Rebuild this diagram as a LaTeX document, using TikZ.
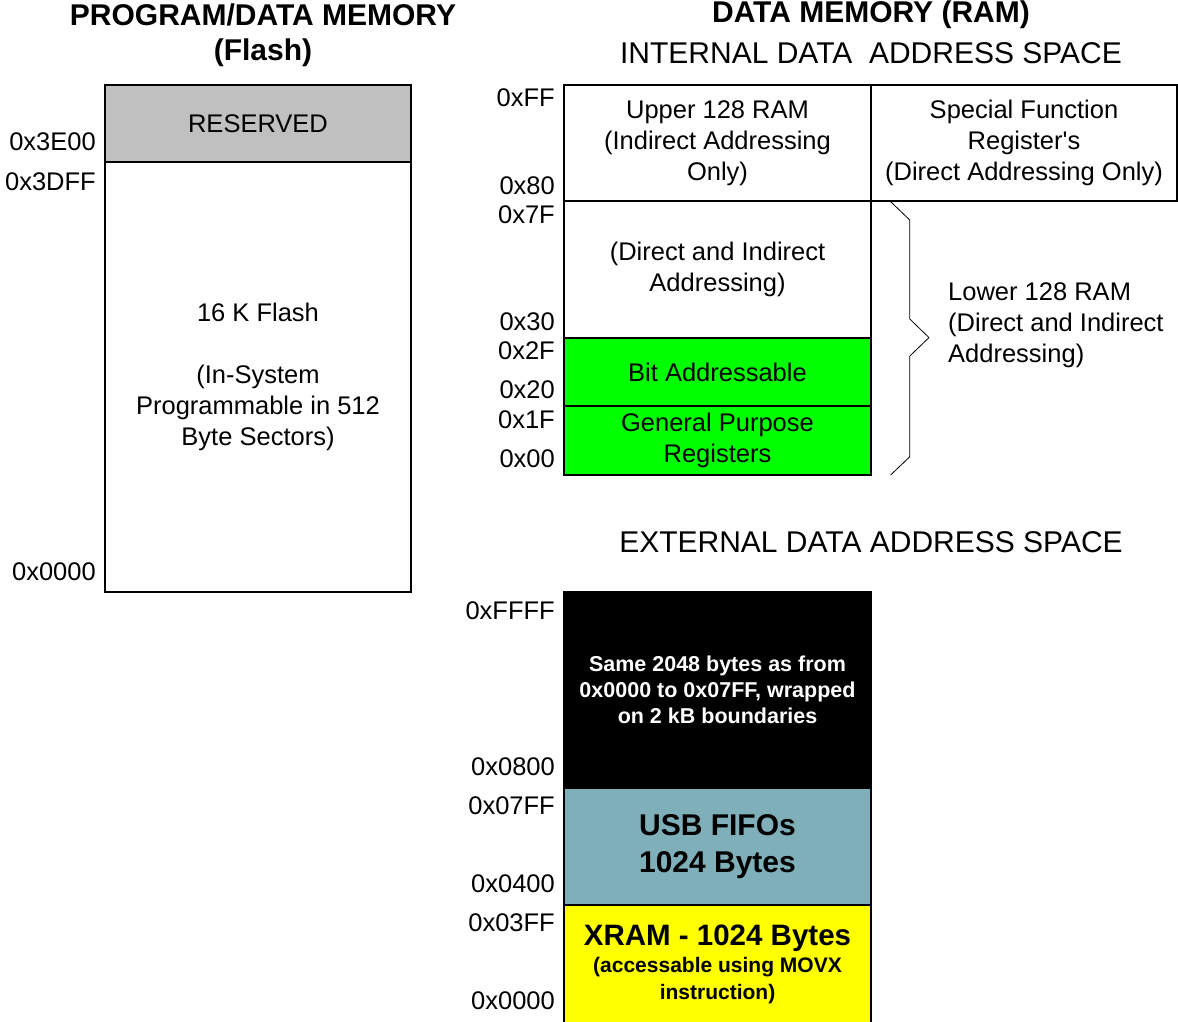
\documentclass[tikz,border=0pt]{standalone}
\usepackage{fontspec}
\setmainfont{Liberation Sans}
\usetikzlibrary{positioning}

\definecolor{rsvgray}{RGB}{192,192,192}
\definecolor{bitgreen}{RGB}{0,255,0}
\definecolor{fifoteal}{RGB}{127,175,184}
\definecolor{xramyellow}{RGB}{255,255,0}

\tikzset{
	memblk/.style={draw, line width=1.6pt, inner sep=0pt, outer sep=0pt, align=center, font=\fontsize{25.5}{31}\selectfont},
	addr/.style={anchor=east, inner sep=0pt, font=\fontsize{25.5}{30}\selectfont},
	ttl/.style={align=center, inner sep=0pt, font=\bfseries\fontsize{30}{35}\selectfont},
	subttl/.style={align=center, inner sep=0pt, font=\fontsize{30}{35}\selectfont},
}

\begin{document}
\begin{tikzpicture}[x=1pt, y=-1pt]
	\useasboundingbox (0,0) rectangle (1178,1021);

	% program / flash memory
	\node[ttl] (flashttl) at (263,35) {PROGRAM/DATA MEMORY\\(Flash)};
	\node[memblk, fill=rsvgray, anchor=north west, minimum width=306pt, minimum height=77pt] (rsvd) at (105,85) {RESERVED};
	\node[memblk, minimum width=306pt, minimum height=430pt, below=0pt of rsvd] (flash) {16 K Flash\\[31pt](In-System\\Programmable in 512\\Byte Sectors)};
	\node[addr] (a3E00) at (96,142) {0x3E00};
	\node[addr] (a3DFF) at (96,182) {0x3DFF};
	\node[addr] (a0000) at (96,572) {0x0000};

	% internal data memory
	\node[ttl] (ramttl) at (871,15) {DATA MEMORY (RAM)};
	\node[subttl] (intttl) at (871,53) {INTERNAL DATA\ \ ADDRESS SPACE};
	\node[memblk, anchor=north west, minimum width=307pt, minimum height=116pt] (upper) at (564,85) {Upper 128 RAM\\(Indirect Addressing\\Only)};
	\node[memblk, minimum width=306pt, minimum height=116pt, right=0pt of upper] (sfr) {Special Function\\Register\textquotesingle s\\(Direct Addressing Only)};
	\node[memblk, minimum width=307pt, minimum height=137pt, below=0pt of upper] (lower) {(Direct and Indirect\\Addressing)};
	\node[memblk, fill=bitgreen, minimum width=307pt, minimum height=68pt, below=0pt of lower] (bitadr) {Bit Addressable};
	\node[memblk, fill=bitgreen, minimum width=307pt, minimum height=69pt, below=0pt of bitadr] (gpr) {General Purpose\\Registers};
	\node[addr] (iFF) at (555,98) {0xFF};
	\node[addr] (i80) at (555,186) {0x80};
	\node[addr] (i7F) at (555,215) {0x7F};
	\node[addr] (i30) at (555,322) {0x30};
	\node[addr] (i2F) at (555,351) {0x2F};
	\node[addr] (i20) at (555,390) {0x20};
	\node[addr] (i1F) at (555,420) {0x1F};
	\node[addr] (i00) at (555,459) {0x00};

	% brace for the lower 128
	\draw[line width=0.8pt] (890.6,201.7) -- (909.8,220) -- (909.8,319) -- (929,337.6) -- (909.8,356) -- (909.8,456.7) -- (890.6,475);
	\node[anchor=west, align=left, inner sep=0pt, font=\fontsize{25.5}{31}\selectfont] (low128) at (948,325) {Lower 128 RAM\\(Direct and Indirect\\Addressing)};

	% external data memory
	\node[subttl] (extttl) at (871,542) {EXTERNAL DATA ADDRESS SPACE};
	\node[memblk, fill=black, text=white, anchor=north west, minimum width=307pt, minimum height=196pt, font=\bfseries\fontsize{21.5}{26}\selectfont] (wrap) at (564,592) {Same 2048 bytes as from\\0x0000 to 0x07FF, wrapped\\on 2 kB boundaries};
	\node[memblk, fill=fifoteal, minimum width=307pt, minimum height=117pt, below=0pt of wrap, font=\bfseries\fontsize{30}{37}\selectfont] (fifo) {USB FIFOs\\1024 Bytes};
	\node[memblk, fill=xramyellow, minimum width=307pt, minimum height=118pt, below=0pt of fifo, font=\bfseries\fontsize{21}{27}\selectfont] (xram) {{\fontsize{29.5}{32}\selectfont XRAM - 1024 Bytes}\\(accessable using MOVX\\instruction)};
	\node[addr] (eFFFF) at (555,611) {0xFFFF};
	\node[addr] (e0800) at (555,767) {0x0800};
	\node[addr] (e07FF) at (555,806) {0x07FF};
	\node[addr] (e0400) at (555,884) {0x0400};
	\node[addr] (e03FF) at (555,923) {0x03FF};
	\node[addr] (e0000) at (555,1001) {0x0000};
\end{tikzpicture}
\end{document}
